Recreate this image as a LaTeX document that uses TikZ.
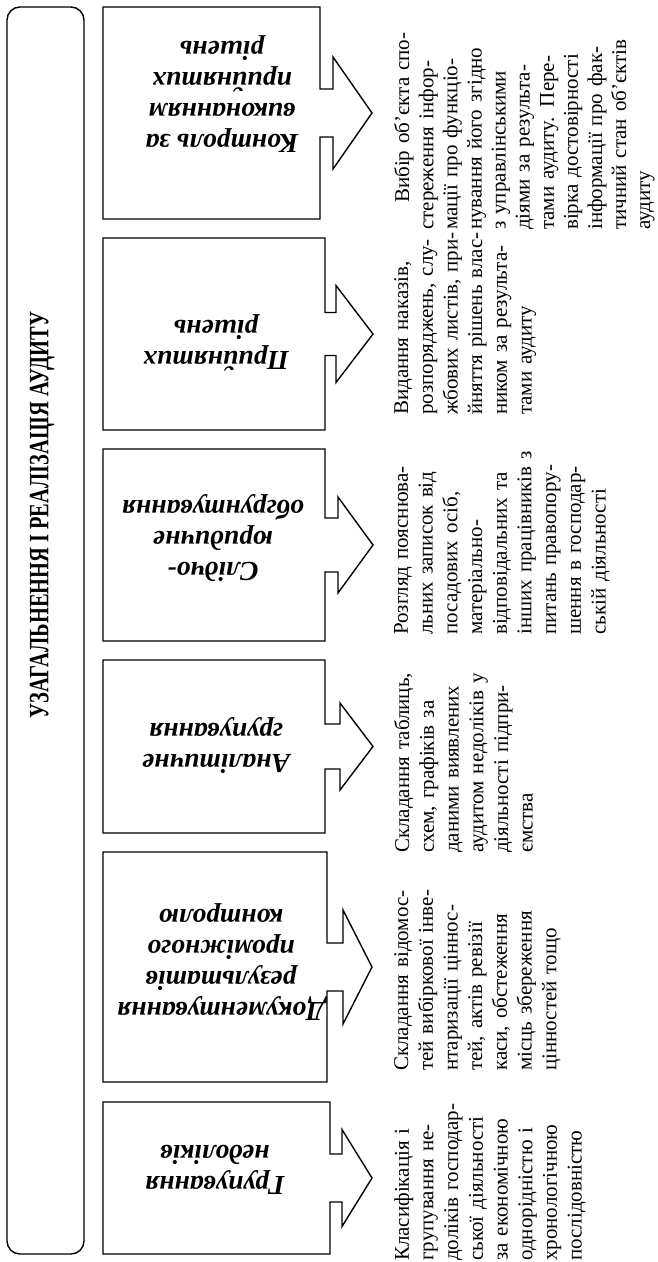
\documentclass[tikz,border=0pt]{standalone}
\usepackage{fontspec}
\usepackage{graphicx}
\setmainfont{Liberation Serif}
\tikzset{
  frame/.style={draw, line width=1.4pt},
  lbl/.style={rotate=180, align=center, inner sep=0pt,
    font=\fontsize{27.5}{31}\selectfont\bfseries\itshape},
  desc/.style={rotate=90, anchor=north west, align=left, text width=300pt,
    inner sep=0pt, font=\fontsize{21}{24.7}\selectfont},
  ttl/.style={rotate=90, inner sep=0pt, font=\fontsize{28}{28}\selectfont\bfseries}
}
% L T R B shaft head headbase tip
\newcommand\arrbox[8]{%
  \draw[frame] (#1,#2) -- (#3,#2) -- (#3,{(#2+#4)/2-#5}) -- (#7,{(#2+#4)/2-#5})
    -- (#7,{(#2+#4)/2-#6}) -- (#8,{(#2+#4)/2}) -- (#7,{(#2+#4)/2+#6})
    -- (#7,{(#2+#4)/2+#5}) -- (#3,{(#2+#4)/2+#5}) -- (#3,#4) -- (#1,#4) -- cycle;}
\begin{document}
\begin{tikzpicture}[x=1pt,y=-1pt]
\useasboundingbox (0,0) rectangle (658,1262);
\fill[white] (0,0) rectangle (658,1262);

% title box
\node[frame, rounded corners=13pt, minimum width=77pt, minimum height=1247pt,
  inner sep=0pt] (titlebox) at (45.5,630.5) {};
\node[ttl] (title) at (42,515) {\scalebox{0.73}[1]{УЗАГАЛЬНЕННЯ І РЕАЛІЗАЦІЯ АУДИТУ}};

% boxes with arrows
\arrbox{103}{7}{320}{219}{24}{56}{333}{372}
\arrbox{103}{238}{325}{430}{21.5}{48.5}{336}{373}
\arrbox{103}{449}{325}{641}{27}{48}{338}{373}
\arrbox{103}{660}{325}{833}{22.5}{43.5}{340}{373}
\arrbox{103}{852}{327}{1082}{24}{57}{343}{372}
\arrbox{103}{1102}{330}{1254}{24}{48.5}{342}{372}

% labels (upside down)
\node[lbl] (l1) at (222,94) {Контроль за\\виконанням\\прийнятих\\рішень};
\node[lbl] (l2) at (216,343) {Прийнятих\\рішень};
\node[lbl] (l3) at (213,538) {Слідчо-\\юридичне\\обгрунтування};
\node[lbl] (l4) at (216,746) {Аналітичне\\групування};
\node[lbl] (l5) at (221,962) {Документування\\результатів\\проміжного\\контролю};
\node[lbl] (l6) at (215,1170) {Групування\\недоліків};

% descriptions
\node[desc, font=\fontsize{21}{24.1}\selectfont] (d1) at (394,230) {\hspace*{27pt}Вибір об’єкта спо-\\стереження інфор-\\мації про функціо-\\нування його згідно\\з управлінськими\\діями за результа-\\тами аудиту. Пере-\\вірка достовірності\\інформації про фак-\\тичний стан об’єктів\\аудиту};
\node[desc] (d2) at (394,415) {Видання наказів,\\розпоряджень, слу-\\жбових листів, при-\\йняття рішень влас-\\ником за результа-\\тами аудиту};
\node[desc] (d3) at (394,635) {Розгляд пояснюва-\\льних записок від\\посадових осіб,\\матеріально-\\відповідальних та\\інших працівників з\\питань правопору-\\шення в господар-\\ській діяльності};
\node[desc] (d4) at (394,853) {Складання таблиць,\\схем, графіків за\\даними виявлених\\аудитом недоліків у\\діяльності підпри-\\ємства};
\node[desc] (d5) at (394,1071) {Складання відомос-\\тей вибіркової інве-\\нтаризації ціннос-\\тей, актів ревізії\\каси, обстеження\\місць збереження\\цінностей тощо};
\node[desc] (d6) at (394,1261) {Класифікація і\\групування не-\\доліків господар-\\ської діяльності\\за економічною\\однорідністю і\\хронологічною\\послідовністю};
\end{tikzpicture}
\end{document}
